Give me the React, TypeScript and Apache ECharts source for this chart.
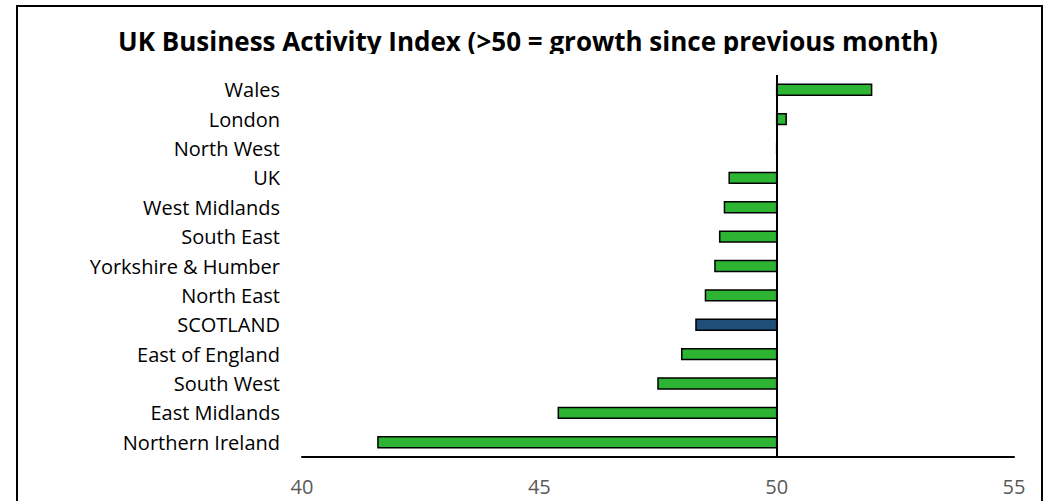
import React, { useEffect, useRef } from "react";
import * as echarts from "echarts";

// Regions, listed top to bottom
const regions = [
  "Wales",
  "London",
  "North West",
  "UK",
  "West Midlands",
  "South East",
  "Yorkshire & Humber",
  "North East",
  "SCOTLAND",
  "East of England",
  "South West",
  "East Midlands",
  "Northern Ireland",
];

// Business activity index for each region
const activityIndex = [52.0, 50.2, 50.0, 49.0, 48.9, 48.8, 48.7, 48.5, 48.3, 48.0, 47.5, 45.4, 41.6];

// Axis ticks
const axisMin = 40;
const axisMax = 55;
const axisStep = 5;
const baseline = 50;

const highlighted = "SCOTLAND";

const FONT = "'Open Sans', sans-serif";

export default function App() {
  const ref = useRef<HTMLDivElement>(null);

  useEffect(() => {
    if (!ref.current) return;
    const chart = echarts.init(ref.current, null, { renderer: "svg" });

    const data = regions.map((name, i) => [activityIndex[i], name]);

    chart.setOption({
      animation: false,
      backgroundColor: "#ffffff",
      title: {
        text: "UK Business Activity Index (>50 = growth since previous month)",
        left: "center",
        top: 23,
        textStyle: {
          fontFamily: FONT,
          fontSize: 26,
          fontWeight: "bold",
          color: "#000000",
        },
      },
      grid: { left: 302, right: 42, top: 75, bottom: 44, containLabel: false },
      xAxis: {
        type: "value",
        min: axisMin,
        max: axisMax,
        interval: axisStep,
        splitLine: { show: false },
        axisTick: { show: false },
        axisLine: { show: true, onZero: false, lineStyle: { color: "#000000", width: 2 } },
        axisLabel: {
          color: "#595959",
          fontFamily: FONT,
          fontSize: 20,
          margin: 19,
        },
      },
      yAxis: {
        type: "category",
        data: regions,
        inverse: true,
        axisLine: { show: false },
        axisTick: { show: false },
        splitLine: { show: false },
        axisLabel: {
          color: "#000000",
          fontFamily: FONT,
          fontSize: 20,
          margin: 22,
        },
      },
      series: [
        {
          type: "custom",
          data,
          encode: { x: 0, y: 1 },
          clip: false,
          renderItem: (params: any, api: any) => {
            const v = api.value(0);
            const cat = api.value(1);
            const start = api.coord([baseline, cat]);
            const end = api.coord([v, cat]);
            const band = api.size([0, 1])[1];
            const h = band * 0.37;
            const x0 = Math.min(start[0], end[0]);
            const w = Math.abs(end[0] - start[0]);
            const name = regions[params.dataIndex];
            return {
              type: "rect",
              shape: { x: x0, y: start[1] - h / 2, width: w, height: h },
              style: {
                fill: name === highlighted ? "#1f4e79" : "#2db432",
                stroke: "#000000",
                lineWidth: 1.5,
              },
            };
          },
          markLine: {
            silent: true,
            symbol: "none",
            label: { show: false },
            lineStyle: { color: "#000000", width: 2, type: "solid" },
            data: [{ xAxis: baseline }],
          },
        },
      ],
      graphic: [
        {
          type: "rect",
          z: 100,
          shape: { x: 60, y: 54, width: 940, height: 16 },
          style: { fill: "#ffffff" },
        },
        {
          type: "rect",
          z: 101,
          shape: { x: 17, y: 6, width: 1025, height: 600 },
          style: { fill: "none", stroke: "#000000", lineWidth: 2 },
        },
      ],
    });

    return () => chart.dispose();
  }, []);

  return (
    <div
      ref={ref}
      style={{ position: "absolute", left: 0, top: 0, width: 1056, height: 501 }}
    />
  );
}
